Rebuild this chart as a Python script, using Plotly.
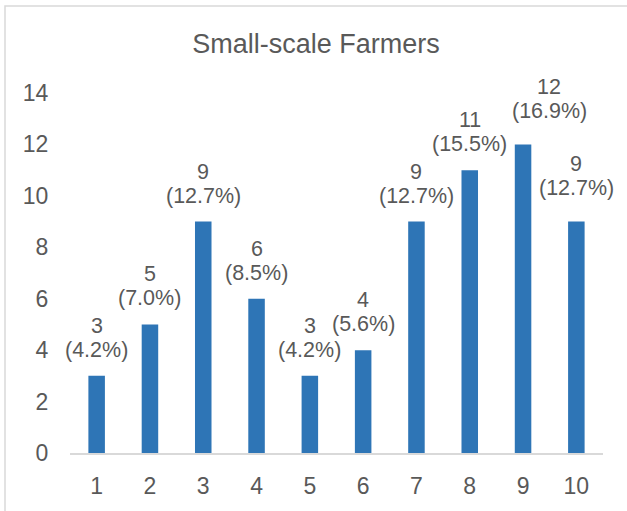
import plotly.graph_objects as go

categories = ["1", "2", "3", "4", "5", "6", "7", "8", "9", "10"]
values = [3, 5, 9, 6, 3, 4, 9, 11, 12, 9]
percent_labels = ["4.2%", "7.0%", "12.7%", "8.5%", "4.2%", "5.6%", "12.7%", "15.5%", "16.9%", "12.7%"]
y_ticks = [0, 2, 4, 6, 8, 10, 12, 14]
title_text = "Small-scale Farmers"

FONT = "Liberation Sans, Arial, sans-serif"
TXT = "#595959"

# manual label nudges (pixels) as in the original chart: index -> (dx, dy)
label_nudge = {8: (26, 7), 9: (0, 8)}

fig = go.Figure()
fig.add_trace(go.Bar(
    x=categories, y=values,
    marker=dict(color="#2E75B6", line=dict(width=0)),
    hoverinfo="skip",
))

annotations = []
for i, (v, p) in enumerate(zip(values, percent_labels)):
    dx, dy = label_nudge.get(i, (0, 0))
    lab_font = dict(family=FONT, size=21.5, color=TXT)
    annotations.append(dict(
        x=i, y=v, xref="x", yref="y", text=f"({p})",
        showarrow=False, yanchor="middle", xshift=dx, yshift=26 + dy,
        font=lab_font,
    ))
    annotations.append(dict(
        x=i, y=v, xref="x", yref="y", text=f"{v}",
        showarrow=False, yanchor="middle", xshift=dx, yshift=50 + dy,
        font=lab_font,
    ))

fig.update_layout(
    width=627, height=511,
    margin=dict(l=70, r=24, t=93, b=54),
    paper_bgcolor="white", plot_bgcolor="white",
    bargap=0.69,
    showlegend=False,
    title=dict(text=title_text, x=0.504, xref="container", xanchor="center",
               y=1 - 44 / 511, yref="container", yanchor="middle",
               font=dict(family=FONT, size=27, color=TXT)),
    annotations=annotations,
    shapes=[dict(type="rect", xref="paper", yref="paper",
                 x0=-65 / 533, x1=1.2, y0=-0.3, y1=(457 - 5) / 364,
                 line=dict(color="#D9D9D9", width=1.5), fillcolor="rgba(0,0,0,0)",
                 layer="below")],
    xaxis=dict(type="category", range=[-0.5, 9.5], showgrid=False, zeroline=False,
               showline=True, linecolor="#D9D9D9", linewidth=1.5,
               ticks="outside", ticklen=12, tickcolor="rgba(0,0,0,0)",
               tickfont=dict(family=FONT, size=23, color=TXT)),
    yaxis=dict(range=[0, 14], tickvals=y_ticks, showgrid=False, zeroline=False,
               showline=False, ticks="outside", ticklen=16, tickcolor="rgba(0,0,0,0)",
               tickfont=dict(family=FONT, size=23, color=TXT)),
)

fig.write_html("out.html")
